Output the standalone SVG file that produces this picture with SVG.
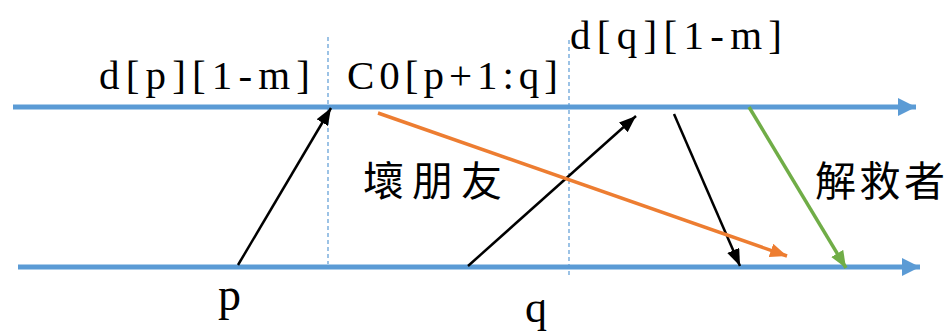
<svg xmlns="http://www.w3.org/2000/svg" width="951" height="331" viewBox="0 0 951 331">
<style>
.axis{stroke:#5B9BD5;stroke-width:5;fill:none}
.dash{stroke:#5B9BD5;stroke-width:1.2;stroke-dasharray:4 3;fill:none}
.blk{stroke:#000;stroke-width:2.5;fill:none}
.org{stroke:#ED7D31;stroke-width:3.5;fill:none}
.grn{stroke:#70AD47;stroke-width:3.5;fill:none}
.lbl{font-family:"Liberation Serif","DejaVu Serif",serif;fill:#000}
.cjk{font-family:"Noto Sans CJK TC","Noto Sans CJK SC",sans-serif;fill:#000}
</style>
<defs>
<marker id="mb" markerUnits="userSpaceOnUse" markerWidth="20" markerHeight="20" refX="18" refY="9" orient="auto"><path d="M0,0 L18,9 L0,18 z" fill="#5B9BD5"/></marker>
<marker id="mk" markerUnits="userSpaceOnUse" markerWidth="18" markerHeight="14" refX="17" refY="6.5" orient="auto"><path d="M0,0 L17,6.5 L0,13 z" fill="#000"/></marker>
<marker id="mo" markerUnits="userSpaceOnUse" markerWidth="18" markerHeight="14" refX="17" refY="7" orient="auto"><path d="M0,0 L17,7 L0,14 z" fill="#ED7D31"/></marker>
<marker id="mg" markerUnits="userSpaceOnUse" markerWidth="18" markerHeight="14" refX="17" refY="7" orient="auto"><path d="M0,0 L17,7 L0,14 z" fill="#70AD47"/></marker>
</defs>
<g id="axes">
<line class="axis" x1="13" y1="107" x2="916" y2="107" marker-end="url(#mb)"/>
<line class="axis" x1="18" y1="267" x2="920" y2="267" marker-end="url(#mb)"/>
</g>
<g id="dividers">
<line class="dash" x1="328" y1="37" x2="328" y2="264"/>
<line class="dash" x1="569" y1="40" x2="569" y2="276"/>
</g>
<g id="connectors">
<line class="blk" x1="238" y1="265" x2="331" y2="108" marker-end="url(#mk)"/>
<line class="blk" x1="468" y1="266" x2="636" y2="116" marker-end="url(#mk)"/>
<line class="blk" x1="674" y1="114" x2="740" y2="266" marker-end="url(#mk)"/>
<line class="org" x1="378" y1="113" x2="787" y2="256" marker-end="url(#mo)"/>
<line class="grn" x1="749" y1="107" x2="846" y2="268" marker-end="url(#mg)"/>
</g>
<g id="labels">
<text class="lbl" x="99" y="89" font-size="41" textLength="211" lengthAdjust="spacing">d[p][1-m]</text>
<text class="lbl" x="347" y="89" font-size="41" textLength="211" lengthAdjust="spacing">C0[p+1:q]</text>
<text class="lbl" x="570" y="49" font-size="41" textLength="212" lengthAdjust="spacing">d[q][1-m]</text>
<text class="lbl" x="218" y="310" font-size="46">p</text>
<text class="lbl" x="525" y="322" font-size="44">q</text>
<text class="cjk" x="363" y="196" font-size="41" textLength="139" lengthAdjust="spacing">壞朋友</text>
<text class="cjk" x="815" y="196" font-size="41" textLength="130" lengthAdjust="spacing">解救者</text>
</g>
</svg>
